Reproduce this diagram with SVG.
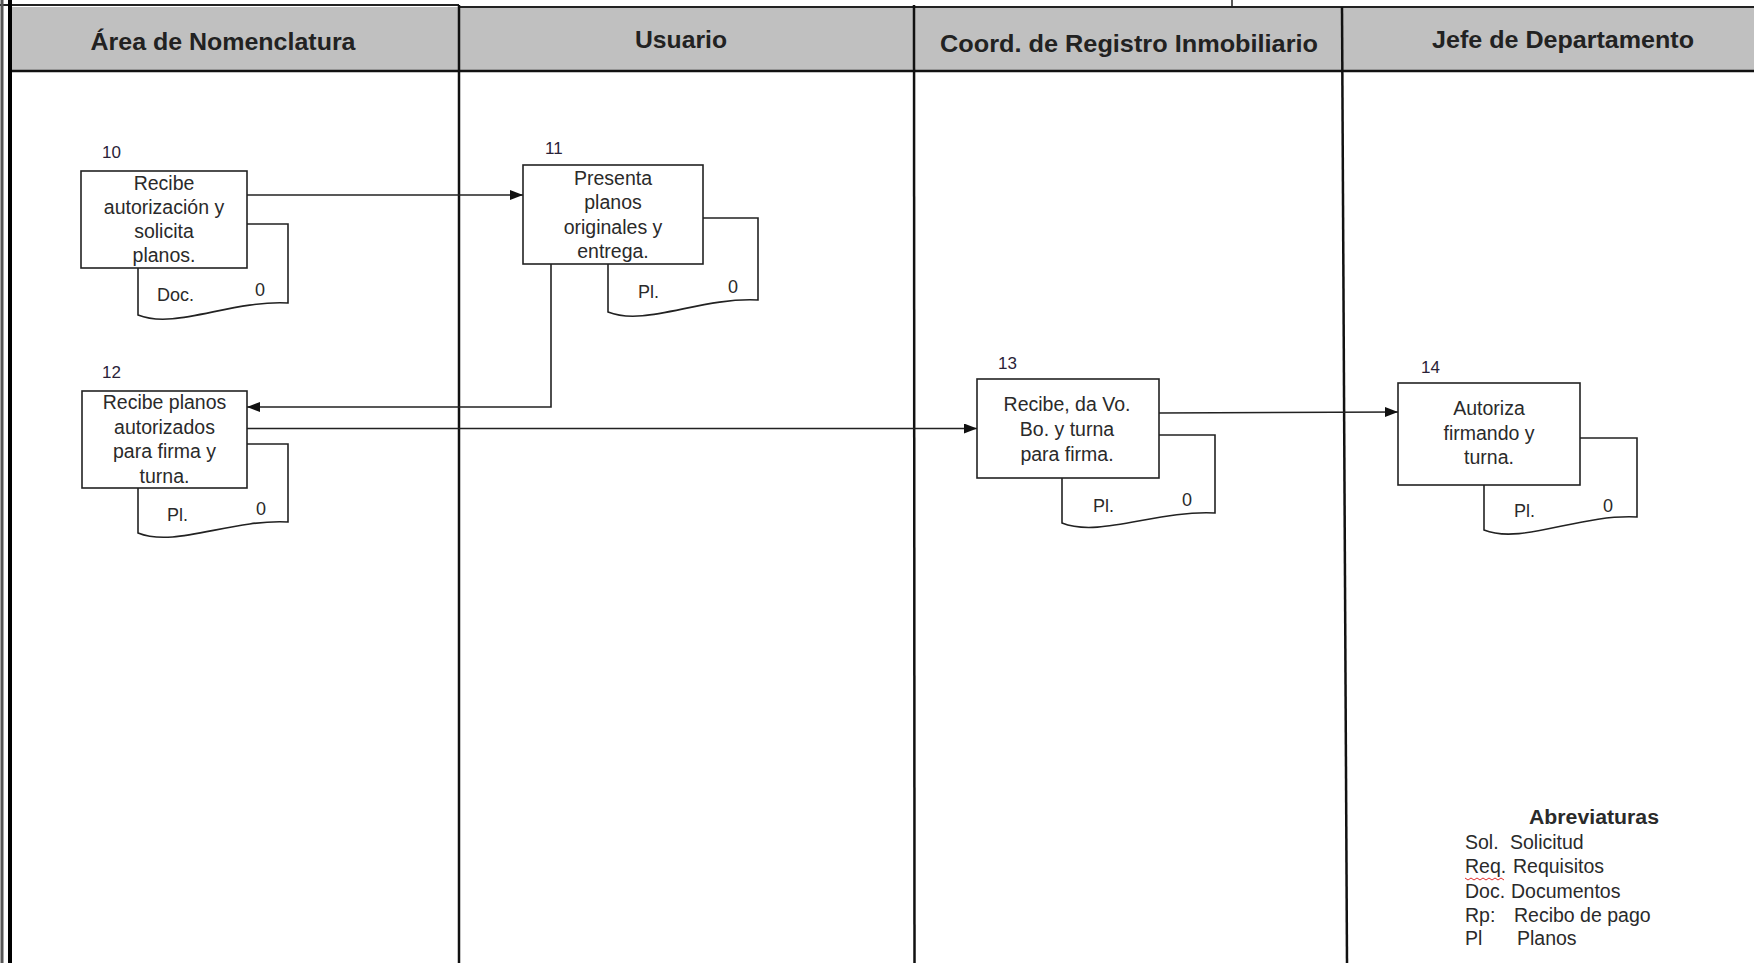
<svg xmlns="http://www.w3.org/2000/svg" width="1754" height="963" viewBox="0 0 1754 963">
<defs>
<style>
.hdr{font-family:"Liberation Sans",Arial,sans-serif;font-weight:bold;font-size:24px;fill:#222;text-anchor:middle}
.box{fill:#fff;stroke:#222;stroke-width:1.6}
.doc{fill:#fff;stroke:#222;stroke-width:1.6}
.t{font-family:"Liberation Sans",Arial,sans-serif;font-size:19.5px;fill:#2a2a2a;text-anchor:middle}
.num{font-family:"Liberation Sans",Arial,sans-serif;font-size:17px;fill:#2a2238}
.dl{font-family:"Liberation Sans",Arial,sans-serif;font-size:18px;fill:#2a2a2a}
.lane{stroke:#111;stroke-width:2.5;fill:none}
.conn{stroke:#222;stroke-width:1.6;fill:none}
.lg{font-family:"Liberation Sans",Arial,sans-serif;font-size:19.5px;fill:#2a2a2a}
</style>
<marker id="arr" markerUnits="userSpaceOnUse" markerWidth="14" markerHeight="12" refX="13" refY="5" orient="auto">
<path d="M0,0 L13,5 L0,10 Z" fill="#111"/>
</marker>
</defs>

<g id="swimlanes">
<rect x="10" y="7" width="1744" height="64" fill="#c0c0c0"/>
<line x1="0" y1="5" x2="459" y2="5" stroke="#222" stroke-width="2"/>
<line x1="459" y1="7" x2="1754" y2="7" stroke="#222" stroke-width="2"/>
<line x1="1232" y1="0" x2="1232" y2="7" stroke="#222" stroke-width="1.5"/>
<line x1="10" y1="71" x2="1754" y2="71" stroke="#111" stroke-width="2.5"/>
<line x1="2" y1="0" x2="2" y2="963" stroke="#555" stroke-width="3"/>
<line x1="10" y1="0" x2="10" y2="963" stroke="#000" stroke-width="4"/>
<line class="lane" x1="459" y1="5" x2="459" y2="963"/>
<line class="lane" x1="914" y1="5" x2="914.5" y2="963"/>
<line class="lane" x1="1342" y1="7" x2="1347" y2="963"/>
<text class="hdr" x="223" y="50" textLength="265" lengthAdjust="spacingAndGlyphs">Área de Nomenclatura</text>
<text class="hdr" x="681" y="48" textLength="92" lengthAdjust="spacingAndGlyphs">Usuario</text>
<text class="hdr" x="1129" y="52" textLength="378" lengthAdjust="spacingAndGlyphs">Coord. de Registro Inmobiliario</text>
<text class="hdr" x="1563" y="48" textLength="262" lengthAdjust="spacingAndGlyphs">Jefe de Departamento</text>
</g>

<g id="connectors">
<line class="conn" x1="247" y1="195" x2="523" y2="195" marker-end="url(#arr)"/>
<polyline class="conn" points="551,264 551,407 247,407" marker-end="url(#arr)"/>
<line class="conn" x1="247" y1="428.5" x2="977" y2="428.5" marker-end="url(#arr)"/>
<line class="conn" x1="1159" y1="413" x2="1398" y2="412" marker-end="url(#arr)"/>
</g>

<g id="node10">
<path class="doc" d="M138,224 L288,224 L288,303 C230,300 175,330 138,315 Z"/>
<rect class="box" x="81" y="171" width="166" height="97"/>
<text class="num" x="102" y="158">10</text>
<text class="t" x="164" y="190">Recibe</text>
<text class="t" x="164" y="214">autorización y</text>
<text class="t" x="164" y="238">solicita</text>
<text class="t" x="164" y="262">planos.</text>
<text class="dl" x="157" y="301">Doc.</text>
<text class="dl" x="255" y="296">0</text>
</g>

<g id="node11">
<path class="doc" d="M608,218 L758,218 L758,300 C700,297 645,327 608,312 Z"/>
<rect class="box" x="523" y="165" width="180" height="99"/>
<text class="num" x="545" y="154">11</text>
<text class="t" x="613" y="185">Presenta</text>
<text class="t" x="613" y="209">planos</text>
<text class="t" x="613" y="233.5">originales y</text>
<text class="t" x="613" y="258">entrega.</text>
<text class="dl" x="638" y="298">Pl.</text>
<text class="dl" x="728" y="293">0</text>
</g>

<g id="node12">
<path class="doc" d="M138,444 L288,444 L288,522 C230,519 175,548 138,533 Z"/>
<rect class="box" x="82" y="391" width="165" height="97"/>
<text class="num" x="102" y="378">12</text>
<text class="t" x="164.5" y="409">Recibe planos</text>
<text class="t" x="164.5" y="433.5">autorizados</text>
<text class="t" x="164.5" y="458">para firma y</text>
<text class="t" x="164.5" y="482.5">turna.</text>
<text class="dl" x="167" y="521">Pl.</text>
<text class="dl" x="256" y="515">0</text>
</g>

<g id="node13">
<path class="doc" d="M1062,435 L1215,435 L1215,513 C1157,510 1099,538 1062,523 Z"/>
<rect class="box" x="977" y="379" width="182" height="99"/>
<text class="num" x="998" y="369">13</text>
<text class="t" x="1067" y="411">Recibe, da Vo.</text>
<text class="t" x="1067" y="436">Bo. y turna</text>
<text class="t" x="1067" y="460.5">para firma.</text>
<text class="dl" x="1093" y="512">Pl.</text>
<text class="dl" x="1182" y="506">0</text>
</g>

<g id="node14">
<path class="doc" d="M1484,438 L1637,438 L1637,517 C1579,514 1521,545 1484,530 Z"/>
<rect class="box" x="1398" y="383" width="182" height="102"/>
<text class="num" x="1421" y="373">14</text>
<text class="t" x="1489" y="415">Autoriza</text>
<text class="t" x="1489" y="439.5">firmando y</text>
<text class="t" x="1489" y="464">turna.</text>
<text class="dl" x="1514" y="517">Pl.</text>
<text class="dl" x="1603" y="512">0</text>
</g>

<g id="legend">
<text class="lg" x="1529" y="824" font-weight="bold" font-size="21.5" textLength="130" lengthAdjust="spacingAndGlyphs">Abreviaturas</text>
<text class="lg" x="1465" y="849">Sol.</text><text class="lg" x="1510" y="849">Solicitud</text>
<text class="lg" x="1465" y="873">Req.</text><text class="lg" x="1513" y="873">Requisitos</text>
<path d="M1465,878 l3,2 l3,-2 l3,2 l3,-2 l3,2 l3,-2 l3,2 l3,-2 l3,2 l3,-2 l3,2 l3,-2 l3,2" fill="none" stroke="#e03030" stroke-width="1"/>
<text class="lg" x="1465" y="897.5">Doc.</text><text class="lg" x="1511" y="897.5">Documentos</text>
<text class="lg" x="1465" y="921.5">Rp:</text><text class="lg" x="1514" y="921.5">Recibo de pago</text>
<text class="lg" x="1465" y="945">Pl</text><text class="lg" x="1517" y="945">Planos</text>
</g>
</svg>
